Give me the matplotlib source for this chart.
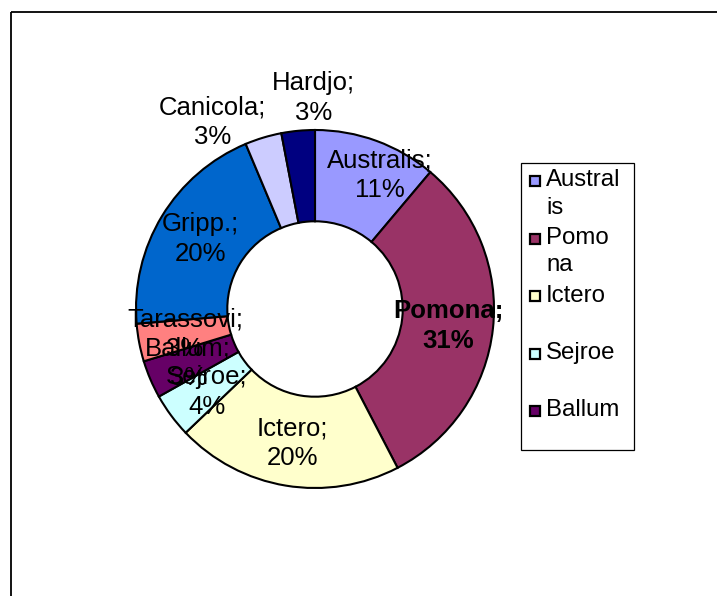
import numpy as np
import matplotlib.pyplot as plt
from matplotlib.patches import Rectangle
from matplotlib.transforms import Affine2D

plt.rcParams['font.family'] = ['Liberation Sans', 'DejaVu Sans']

# serovars, clockwise from 12 o'clock
names = ['Australis', 'Pomona', 'Ictero', 'Sejroe', 'Ballum',
         'Tarassovi', 'Gripp.', 'Canicola', 'Hardjo']
values = [11.1, 31.1, 20.4, 4.0, 3.4, 3.4, 19.9, 3.3, 3.0]
colors = ['#9999FF', '#993366', '#FFFFCC', '#CCFFFF', '#660066',
          '#FF8080', '#0066CC', '#CCCCFF', '#000080']
# legend only shows the first five (wrapped like the original)
legend_labels = ['Austral\nis', 'Pomo\nna', 'Ictero', 'Sejroe', 'Ballum']

# label placement: radial distance and angle nudge (deg, counter-clockwise)
label_dist = [0.83, 0.75, 0.76, 0.76, 0.77, 0.74, 0.75, 1.19, 1.18]
label_nudge = [-6, -1, 0, 1, 0, 0, 0, 12, -5]

fig = plt.figure(figsize=(7.17, 5.96), dpi=100)
W, H = 717, 596
# pixel coords from the top-left corner
px = Affine2D().scale(1 / W, -1 / H).translate(0, 1) + fig.transFigure

cx, cy, r = 315, 309, 179
ax = fig.add_axes([(cx - r) / W, (H - cy - r) / H, 2 * r / W, 2 * r / H])

wedges, _ = ax.pie(values, colors=colors, startangle=90, counterclock=False,
                   radius=1, wedgeprops=dict(width=0.51, edgecolor='black', linewidth=1.5))
ax.set_xlim(-1, 1)
ax.set_ylim(-1, 1)
ax.set_aspect('equal')
ax.axis('off')

total = sum(values)
for i, w in enumerate(wedges):
    ang = np.deg2rad((w.theta1 + w.theta2) / 2 + label_nudge[i])
    pct = round(100 * values[i] / total)
    x = label_dist[i] * np.cos(ang)
    y = label_dist[i] * np.sin(ang)
    ax.text(x, y, f'{names[i]};\n{pct}%', ha='center', va='center',
            fontsize=18.5, linespacing=1.3,
            fontweight='bold' if names[i] == 'Pomona' else 'normal',
            clip_on=False)

# legend box, drawn by hand so wrapped entries keep the key on the first line
fig.add_artist(Rectangle((521, 163), 113, 287, transform=px, fill=False,
                         edgecolor='black', linewidth=0.9))
for i, lab in enumerate(legend_labels):
    base = 187.5 + 57.5 * i
    fig.add_artist(Rectangle((530, base - 11.5), 10, 10, transform=px,
                             facecolor=colors[i], edgecolor='black', linewidth=1.6))
    fig.text(546, base - 18, lab, transform=px, ha='left', va='top',
             fontsize=17.3, linespacing=1.32)

# chart-area border (only top and left are inside the image)
fig.add_artist(Rectangle((11, 12), 800, 700, transform=px,
                         fill=False, edgecolor='black', linewidth=1.3))

fig.savefig('out.png', dpi=100)
